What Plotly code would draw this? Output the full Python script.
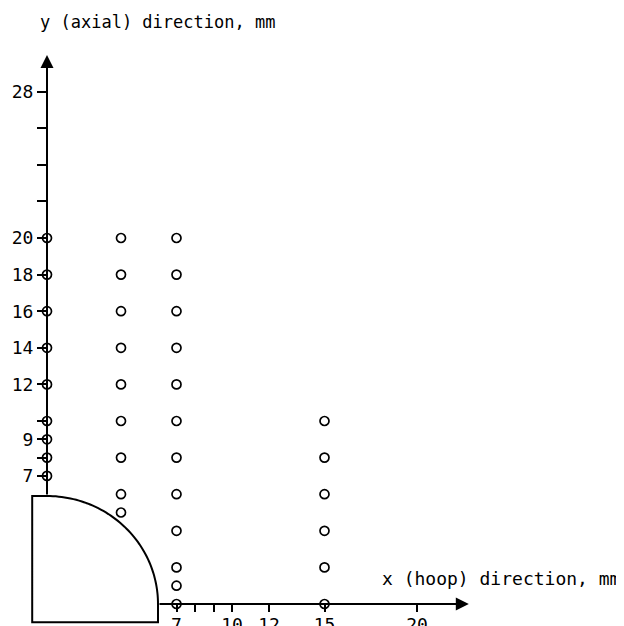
import numpy as np
import plotly.graph_objects as go

# ---- data (mm) ----
col_x = [0, 4, 7, 15]
col0_y = [7, 8, 9, 10, 12, 14, 16, 18, 20]
col4_y = [5, 6, 8, 10, 12, 14, 16, 18, 20]
col7_y = [0, 1, 2, 4, 6, 8, 10, 12, 14, 16, 18, 20]
col15_y = [0, 2, 4, 6, 8, 10]

y_tickvals = [7, 8, 9, 10, 12, 14, 16, 18, 20, 22, 24, 26, 28]
y_ticktext = ["7", "", "9", "", "12", "14", "16", "18", "20", "", "", "", "28"]
x_tickvals = [7, 8, 9, 10, 12, 15, 20]
x_ticktext = ["7", "", "", "10", "12", "15", "20"]

# specimen outline (quarter ellipse), mm
rx, ry = 6.0, 5.9
left_edge, bottom_edge = -0.8, -1.0
x_arrow_end, y_arrow_end = 22.8, 30.0

xs, ys = [], []
for c, yy in zip(col_x, [col0_y, col4_y, col7_y, col15_y]):
    xs += [c] * len(yy)
    ys += yy

W, H = 624, 626
OFF = 8  # page body margin
x0_px, y0_px = 47 - OFF, 604 - OFF
sx, sy = 18.5, 18.3
xr = [-x0_px / sx, (W - x0_px) / sx]
yr = [(y0_px - H) / sy, y0_px / sy]

fig = go.Figure()
fig.add_trace(go.Scatter(
    x=xs, y=ys, mode="markers",
    marker=dict(symbol="circle-open", size=9, color="black", line=dict(width=1.7, color="black")),
    showlegend=False, hoverinfo="skip"))

# outline path
t = np.linspace(0, np.pi / 2, 60)
px = rx * np.sin(t)
py = ry * np.cos(t)
path = f"M {left_edge},{bottom_edge} L {left_edge},{ry} "
path += " ".join(f"L {a:.4f},{b:.4f}" for a, b in zip(px, py))
path += f" L {rx},{bottom_edge} Z"
fig.add_shape(type="path", path=path, xref="x", yref="y",
              line=dict(color="black", width=2), fillcolor="white", layer="above")

# axis lines with arrows
fig.add_annotation(x=x_arrow_end, y=0, ax=rx, ay=0, xref="x", yref="y", axref="x", ayref="y",
                   text="", showarrow=True, arrowhead=2, arrowsize=1.3, arrowwidth=2, arrowcolor="black")
fig.add_annotation(x=0, y=y_arrow_end, ax=0, ay=ry, xref="x", yref="y", axref="x", ayref="y",
                   text="", showarrow=True, arrowhead=2, arrowsize=1.3, arrowwidth=2, arrowcolor="black")

FAM = "DejaVu Sans Mono"
fig.add_annotation(x=(157 - OFF) / W, y=1 - (22 - OFF) / H, xref="paper", yref="paper",
                   text="y (axial) direction, mm", showarrow=False,
                   font=dict(family=FAM, size=17, color="black"),
                   xanchor="center", yanchor="middle")
fig.add_annotation(x=(501 - OFF) / W, y=1 - (578 - OFF) / H, xref="paper", yref="paper",
                   text="x (hoop) direction, mm", showarrow=False,
                   font=dict(family=FAM, size=18, color="black"),
                   xanchor="center", yanchor="middle")

xpos = (0 - yr[0]) / (yr[1] - yr[0])
ypos = (0 - xr[0]) / (xr[1] - xr[0])

tickfont = dict(family=FAM, size=18, color="black")
fig.update_layout(
    width=W, height=H, margin=dict(l=0, r=0, t=0, b=0),
    paper_bgcolor="white", plot_bgcolor="white", template="none",
    xaxis=dict(range=xr, showgrid=False, zeroline=False, showline=False,
               anchor="free", position=xpos, automargin=False,
               tickmode="array", tickvals=x_tickvals, ticktext=x_ticktext,
               ticks="outside", ticklen=7, tickwidth=1.5, tickcolor="black",
               ticklabelstandoff=-3, tickfont=tickfont),
    yaxis=dict(range=yr, showgrid=False, zeroline=False, showline=False,
               anchor="free", position=ypos, automargin=False,
               tickmode="array", tickvals=y_tickvals, ticktext=y_ticktext,
               ticks="outside", ticklen=10, tickwidth=1.5, tickcolor="black",
               tickfont=tickfont),
)

fig.write_html("out.html")
